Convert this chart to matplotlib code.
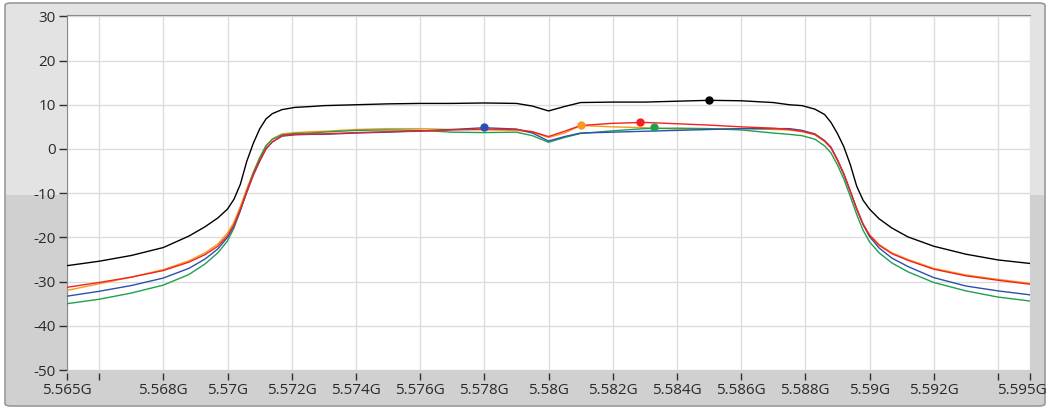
import matplotlib
matplotlib.use("Agg")
import matplotlib.pyplot as plt
import matplotlib.transforms as mtransforms
from matplotlib.patches import Rectangle, FancyBboxPatch

plt.rcParams['font.family'] = ['Open Sans', 'DejaVu Sans']
plt.rcParams['axes.unicode_minus'] = False

# ---- data (GHz, dBm) ----
freq = [5.565, 5.566, 5.567, 5.568, 5.5688, 5.5693, 5.5697, 5.5700, 5.5702, 5.5704,
        5.5706, 5.5708, 5.5710, 5.5712, 5.5714, 5.5717, 5.5721, 5.5726,
        5.573, 5.574, 5.575, 5.576, 5.577, 5.578, 5.579, 5.5795, 5.580, 5.5805,
        5.581, 5.582, 5.583, 5.584, 5.585, 5.586, 5.587,
        5.5875, 5.5879, 5.5883, 5.5886, 5.5888, 5.5890, 5.5892, 5.5894, 5.5896,
        5.5898, 5.5900, 5.5903, 5.5907, 5.5912, 5.592, 5.593, 5.594, 5.595]

black = [-26.4, -25.4, -24.1, -22.3, -19.7, -17.6, -15.6, -13.6, -11.4, -8.0,
         -2.8, 1.2, 4.5, 6.8, 8.0, 8.9, 9.4, 9.6,
         9.8, 10.0, 10.2, 10.3, 10.3, 10.4, 10.3, 9.7, 8.6, 9.6,
         10.5, 10.6, 10.6, 10.8, 11.0, 10.9, 10.5,
         10.0, 9.8, 9.0, 7.8, 6.0, 3.5, 0.5, -3.5, -8.4,
         -11.6, -13.6, -15.8, -17.9, -19.9, -22.0, -23.8, -25.1, -25.9]

red = [-31.3, -30.2, -29.0, -27.5, -25.6, -23.9, -22.0, -19.6, -17.2, -13.7,
       -9.7, -5.9, -2.7, 0.1, 1.6, 3.0, 3.3, 3.4,
       3.4, 3.7, 3.9, 4.0, 4.3, 4.5, 4.4, 3.9, 2.8, 4.0,
       5.3, 5.8, 6.0, 5.7, 5.4, 5.0, 4.7,
       4.4, 4.0, 3.3, 1.8, 0.3, -2.5, -5.7, -9.5, -13.5,
       -17.0, -19.5, -21.8, -23.7, -25.2, -27.2, -28.7, -29.7, -30.6]

orange = [-32.0, -30.5, -29.0, -27.3, -25.3, -23.5, -21.5, -19.0, -16.6, -13.0,
          -9.0, -5.3, -2.0, 0.8, 2.3, 3.4, 3.7, 3.9,
          4.0, 4.4, 4.6, 4.6, 4.4, 4.3, 4.2, 3.8, 2.6, 3.6,
          5.3, 5.0, 4.8, 4.5, 4.5, 4.6, 4.4,
          4.3, 3.9, 3.2, 1.7, 0.2, -2.6, -5.8, -9.6, -13.5,
          -17.0, -19.4, -21.6, -23.5, -25.0, -27.0, -28.5, -29.5, -30.4]

blue = [-33.3, -32.2, -30.9, -29.2, -27.0, -24.9, -22.6, -20.0, -17.4, -13.8,
        -9.8, -6.0, -2.8, 0.0, 1.6, 2.9, 3.2, 3.3,
        3.3, 3.6, 3.8, 4.1, 4.4, 4.8, 4.5, 3.6, 1.8, 2.8,
        3.6, 3.8, 4.0, 4.2, 4.4, 4.6, 4.6,
        4.6, 4.2, 3.4, 1.9, 0.4, -2.4, -5.6, -9.5, -13.6,
        -17.1, -19.8, -22.4, -24.7, -26.6, -29.1, -31.0, -32.1, -33.0]

green = [-35.0, -34.0, -32.6, -30.8, -28.4, -26.0, -23.5, -20.8, -17.9, -14.0,
         -9.6, -5.5, -2.1, 0.7, 2.2, 3.2, 3.5, 3.6,
         3.8, 4.2, 4.3, 4.2, 3.8, 3.7, 3.8, 3.0, 1.5, 2.6,
         3.5, 4.1, 4.6, 4.7, 4.6, 4.3, 3.6,
         3.3, 3.0, 2.2, 0.7, -0.9, -3.6, -6.8, -10.7, -14.8,
         -18.4, -21.0, -23.5, -25.8, -27.8, -30.2, -32.1, -33.5, -34.4]

marker_freq = {'black': 5.5850, 'red': 5.58285, 'orange': 5.5810, 'green': 5.5833, 'blue': 5.5780}
marker_val = {'black': 11.0, 'red': 6.1, 'orange': 5.4, 'green': 5.0, 'blue': 5.0}

xticks = [5.565, 5.566, 5.568, 5.570, 5.572, 5.574, 5.576, 5.578, 5.580, 5.582,
          5.584, 5.586, 5.588, 5.590, 5.592, 5.594, 5.595]
xticklabels = ['5.565G', '', '5.568G', '5.57G', '5.572G', '5.574G', '5.576G', '5.578G',
               '5.58G', '5.582G', '5.584G', '5.586G', '5.588G', '5.59G', '5.592G', '', '5.595G']
yticks = [-50, -40, -30, -20, -10, 0, 10, 20, 30]

colors = {'black': '#000000', 'red': '#f52020', 'orange': '#f59a1e',
          'blue': '#2d4fb0', 'green': '#1fa050'}

W, H = 1049, 409
fig = plt.figure(figsize=(W / 100, H / 100), dpi=100)
fig.patch.set_facecolor('white')

# background panel: lighter upper part, darker lower part
split = (H - 195) / H
fig.patches.append(Rectangle((5 / W, 3 / H), 1040 / W, split - 3 / H,
                             transform=fig.transFigure, facecolor='#d0d0d0',
                             edgecolor='none', zorder=-2))
fig.patches.append(Rectangle((5 / W, split), 1040 / W, (1 - 3 / H) - split,
                             transform=fig.transFigure, facecolor='#e3e3e3',
                             edgecolor='none', zorder=-2))
fig.patches.append(FancyBboxPatch((5 / W, 3 / H), 1040 / W, (H - 6) / H,
                                  boxstyle='round,pad=0,rounding_size=0.006',
                                  transform=fig.transFigure, facecolor='none',
                                  edgecolor='#9a9a9a', linewidth=1.2, zorder=-1))

left, right, top, bottom = 67, 1030, 15, 370
ax = fig.add_axes([left / W, (H - bottom) / H, (right - left) / W, (bottom - top) / H])
ax.set_zorder(5)
ax.set_facecolor('white')

for name, vals in [('black', black), ('orange', orange), ('green', green),
                   ('blue', blue), ('red', red)]:
    ax.plot(freq, vals, color=colors[name], lw=1.0, zorder=3)
for name in ['black', 'red', 'orange', 'green', 'blue']:
    ax.plot([marker_freq[name]], [marker_val[name]], 'o', color=colors[name],
            markersize=5, zorder=4)

ax.set_xlim(5.565, 5.595)
ax.set_ylim(-50, 30.3)
ax.set_xticks(xticks)
ax.set_xticklabels(xticklabels)
ax.set_yticks(yticks)
ax.set_yticklabels([str(v) for v in yticks])
ax.grid(True, color='#dcdcdc', lw=1.0)
ax.set_axisbelow(True)

for s in ['right', 'bottom']:
    ax.spines[s].set_visible(False)
ax.spines['left'].set_color('#8a8a8a')
ax.spines['top'].set_color('#8a8a8a')
ax.spines['bottom'].set_position(('outward', 2))

ax.tick_params(axis='y', direction='out', length=6, width=1, color='#303030',
               labelsize=11, labelcolor='#2a2a2a', pad=2)
ax.tick_params(axis='x', direction='out', length=5, width=1, color='#303030',
               labelsize=11, labelcolor='#2a2a2a', pad=2)

# the last x label sits a bit left so it stays inside the frame
last = ax.get_xticklabels()[-1]
last.set_transform(last.get_transform() +
                   mtransforms.ScaledTranslation(-8 / 100, 0, fig.dpi_scale_trans))

fig.savefig('out.png', dpi=100, facecolor=fig.get_facecolor())
